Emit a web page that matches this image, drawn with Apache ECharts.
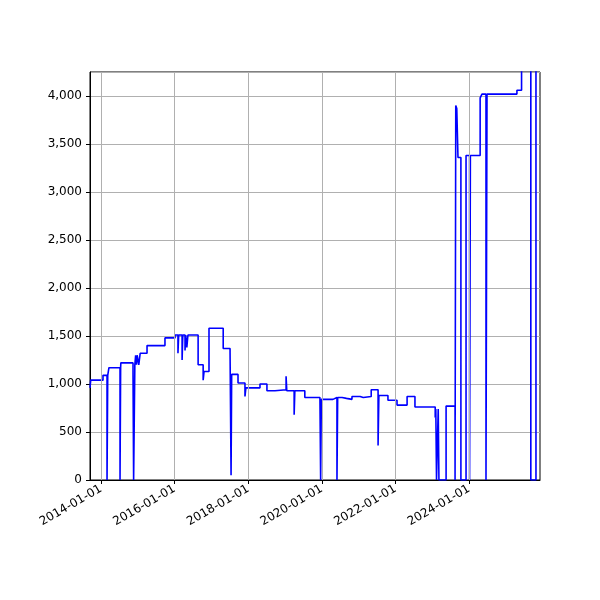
<!DOCTYPE html>
<html><head><meta charset="utf-8">
<script src="https://cdn.jsdelivr.net/npm/echarts@6/dist/echarts.min.js"></script>
<style>html,body{margin:0;padding:0;background:#fff}#c{width:600px;height:600px}</style>
</head><body><div id="c"></div>
<script>
const dates = ["2013-09-13","2013-09-20","2014-01-20","2014-03-01","2014-03-08","2014-03-20","2014-07-08","2014-07-14","2014-07-16","2014-11-14","2014-11-20","2014-12-02","2014-12-10","2014-12-18","2014-12-25","2015-01-10","2015-01-24","2015-04-02","2015-09-27","2016-01-05","2016-02-03","2016-02-10","2016-03-15","2016-03-22","2016-04-13","2016-04-20","2016-05-01","2016-05-12","2016-08-21","2016-10-10","2016-10-19","2016-12-07","2017-04-27","2017-07-04","2017-07-14","2017-07-20","2017-09-21","2017-11-29","2017-12-08","2018-04-27","2018-07-05","2018-09-23","2019-01-11","2019-01-18","2019-04-01","2019-04-08","2019-07-16","2019-12-13","2019-12-20","2019-12-27","2020-04-20","2020-05-30","2020-06-06","2020-07-20","2020-09-01","2020-10-26","2021-01-15","2021-02-15","2021-05-05","2021-07-12","2021-07-20","2021-10-18","2022-01-16","2022-04-26","2022-07-13","2023-01-30","2023-02-05","2023-02-12","2023-03-01","2023-03-08","2023-05-18","2023-08-15","2023-08-22","2023-09-01","2023-09-13","2023-10-12","2023-12-02","2024-01-06","2024-01-14","2024-04-20","2024-05-08","2024-06-17","2024-06-27","2025-04-20","2025-06-05","2025-09-05","2025-10-26","2025-12-05"];
const values = [960,1040,1090,0,1090,1170,0,1170,1220,1100,0,1200,1300,1200,1300,1200,1320,1400,1480,1510,1320,1510,1250,1510,1350,1510,1380,1510,1200,1040,1130,1580,1370,1330,50,1100,1010,870,960,1000,930,940,1080,930,680,930,860,840,0,840,860,0,860,850,840,870,860,870,940,360,880,830,780,870,760,650,740,0,740,0,770,0,3900,3870,3360,0,3380,0,3380,3980,4020,0,4020,4060,5000,0,5000,5000];
const xTicks = ["2014-01-01","2016-01-01","2018-01-01","2020-01-01","2022-01-01","2024-01-01"];
const yMax = 4250;

const ts = s => new Date(s + "T00:00:00Z").getTime();
const chart = echarts.init(document.getElementById('c'));
chart.setOption({
  animation:false,
  textStyle:{fontFamily:'DejaVu Sans'},
  grid:{left:90,right:60,top:72,bottom:120,show:true,borderColor:'#000',borderWidth:1},
  xAxis:{type:'value',min:ts("2013-09-13"),max:ts("2025-12-05"),
    axisLine:{lineStyle:{color:'#000'}},
    axisTick:{length:4,customValues:xTicks.map(ts),lineStyle:{color:'#000'}},
    axisLabel:{customValues:xTicks.map(ts),rotate:30,color:'#000',fontSize:12,
      formatter:v=>new Date(v).toISOString().slice(0,10),margin:8},
    splitLine:{show:false}},
  yAxis:{type:'value',min:0,max:yMax,interval:500,
    axisLine:{show:true,lineStyle:{color:'#000'}},
    axisTick:{show:true,length:4,lineStyle:{color:'#000'}},
    axisLabel:{color:'#000',fontSize:12,showMaxLabel:false},
    splitLine:{lineStyle:{color:'#b0b0b0',width:1}}},
  series:[{type:'line',step:'end',showSymbol:false,clip:true,
    data:dates.map((d,i)=>[ts(d),values[i]]),
    lineStyle:{color:'#0000ff',width:1.6},
    markLine:{silent:true,symbol:'none',label:{show:false},
      lineStyle:{color:'#b0b0b0',type:'solid',width:1},
      data:xTicks.map(d=>({xAxis:ts(d)}))},
    z:3}]
});
</script></body></html>
